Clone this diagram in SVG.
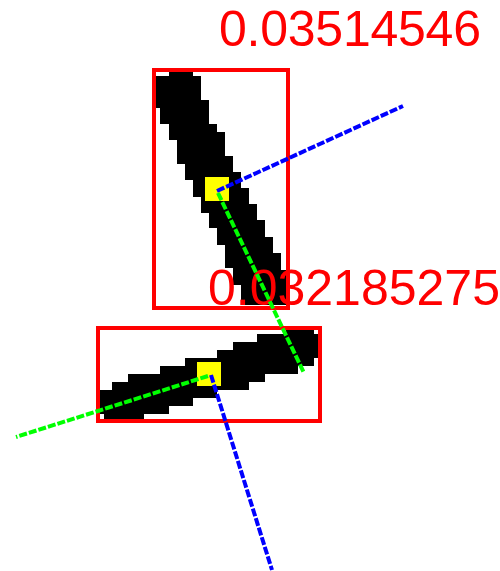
<svg xmlns="http://www.w3.org/2000/svg" width="500" height="571" viewBox="0 0 500 571">
<style>
.blob{fill:#000000}
.mark{fill:#FFFF00}
.box{fill:none;stroke:#FF0000;stroke-width:4}
.lbl{fill:#FF0000;font-family:"Liberation Sans",Arial,sans-serif;font-size:50px}
.blue{stroke:#0000FF;stroke-width:4;fill:none;stroke-dasharray:8 2}
.green{stroke:#00FF00;stroke-width:4;fill:none;stroke-dasharray:8 2}
</style>
<rect width="500" height="571" fill="#FFFFFF"/>
<g id="top-object">
<path class="blob" d="M169,72 H193 V76 H201 V100 H209 V124 H217 V132 H225 V156 H233 V172 H241 V188 H249 V204 H257 V220 H265 V237 H273 V253 H281 V270 H286 V305 H241 V285 H233 V268 H225 V245 H217 V228 H209 V213 H201 V197 H193 V180 H185 V164 H177 V140 H169 V124 H160 V108 H156 V76 H169 Z"/>
<rect class="mark" x="205" y="177" width="24" height="24"/>
<rect class="box" x="154" y="70" width="134" height="238"/>
<text class="lbl" x="219" y="46" textLength="262" lengthAdjust="spacing">0.03514546</text>
</g>
<g id="bottom-object">
<path class="blob" d="M286,330 H314 V334 H318 V358 H314 V366 H298 V374 H265 V382 H249 V390 H217 V398 H193 V406 H169 V414 H144 V419 H104 V414 H100 V390 H112 V382 H128 V374 H160 V366 H185 V358 H217 V350 H233 V342 H257 V334 H286 Z"/>
<rect class="mark" x="197" y="362" width="24" height="24"/>
<rect class="box" x="98" y="328" width="222" height="93"/>
<text class="lbl" x="208" y="305">0.032185275</text>
</g>
<g id="connectors">
<line class="blue" x1="217" y1="191" x2="403" y2="106"/>
<line class="green" x1="218" y1="193" x2="304" y2="373"/>
<line class="green" x1="208" y1="376" x2="16" y2="437"/>
<line class="blue" x1="211" y1="375" x2="272" y2="570"/>
</g>
</svg>
